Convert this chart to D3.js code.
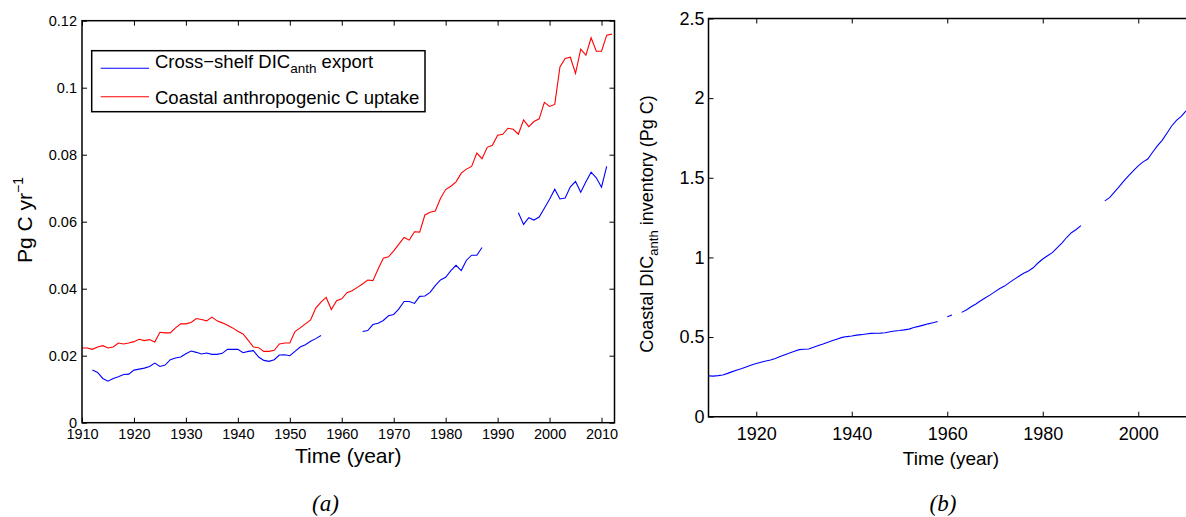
<!DOCTYPE html>
<html>
<head>
<meta charset="utf-8">
<script src="https://cdn.jsdelivr.net/npm/d3@7"></script>
<style>
  body { margin: 0; background: #fff; }
  svg { display: block; font-family: "Liberation Sans", Arial, sans-serif; }
  .ax path { display: none; }
  .ax line { stroke: #000; stroke-width: 1; }
</style>
</head>
<body>
<div id="chart-container"></div>
<script>
// panel (a): annual fluxes 1910-2012, null = no data
var firstYearA = 1910;
var exportFlux = [
  null, null, 0.0157, 0.0150, 0.0132, 0.0124, 0.0132, 0.0137, 0.0144, 0.0145,
  0.0157, 0.0160, 0.0163, 0.0168, 0.0178, 0.0168, 0.0172, 0.0188, 0.0193, 0.0196,
  0.0206, 0.0214, 0.0210, 0.0205, 0.0208, 0.0204, 0.0204, 0.0207, 0.0219, 0.0219,
  0.0219, 0.0209, 0.0213, 0.0215, 0.0196, 0.0186, 0.0183, 0.0188, 0.0202, 0.0203,
  0.0200, 0.0213, 0.0226, 0.0233, 0.0243, 0.0251, 0.0260, null, null, null,
  null, null, null, null, 0.0272, 0.0275, 0.0293, 0.0297, 0.0305, 0.0319,
  0.0323, 0.0340, 0.0362, 0.0362, 0.0356, 0.0377, 0.0378, 0.0389, 0.0409, 0.0426,
  0.0434, 0.0454, 0.0470, 0.0454, 0.0485, 0.0500, 0.0500, 0.0523, null, null,
  null, null, null, null, 0.0627, 0.0592, 0.0612, 0.0605, 0.0614, 0.0640,
  0.0667, 0.0697, 0.0668, 0.0671, 0.0704, 0.0720, 0.0688, 0.0719, 0.0748, 0.0731,
  0.0703, 0.0765, null
];
var uptakeFlux = [
  0.0223, 0.0223, 0.0219, 0.0226, 0.0230, 0.0223, 0.0226, 0.0238, 0.0235, 0.0238,
  0.0242, 0.0249, 0.0245, 0.0248, 0.0241, 0.0270, 0.0268, 0.0268, 0.0283, 0.0295,
  0.0295, 0.0299, 0.0311, 0.0308, 0.0304, 0.0315, 0.0304, 0.0298, 0.0291, 0.0283,
  0.0273, 0.0265, 0.0246, 0.0226, 0.0224, 0.0213, 0.0213, 0.0216, 0.0235, 0.0238,
  0.0238, 0.0272, 0.0283, 0.0295, 0.0307, 0.0342, 0.0360, 0.0374, 0.0338, 0.0364,
  0.0370, 0.0388, 0.0394, 0.0404, 0.0414, 0.0426, 0.0424, 0.0459, 0.0491, 0.0495,
  0.0513, 0.0533, 0.0553, 0.0545, 0.0570, 0.0569, 0.0620, 0.0628, 0.0632, 0.0669,
  0.0696, 0.0706, 0.0719, 0.0745, 0.0757, 0.0765, 0.0805, 0.0788, 0.0822, 0.0828,
  0.0858, 0.0861, 0.0879, 0.0876, 0.0861, 0.0904, 0.0884, 0.0899, 0.0907, 0.0956,
  0.0944, 0.0950, 0.1062, 0.1087, 0.1091, 0.1043, 0.1115, 0.1097, 0.1149, 0.1109,
  0.1109, 0.1157, 0.1160
];
var xTicksA = [1910, 1920, 1930, 1940, 1950, 1960, 1970, 1980, 1990, 2000, 2010];
var yTicksA = [0, 0.02, 0.04, 0.06, 0.08, 0.1, 0.12];

// panel (b): coastal DIC_anth inventory 1910-2010
var firstYearB = 1910;
var inventory = [
  0.256, 0.255, 0.258, 0.262, 0.272, 0.283, 0.293, 0.303, 0.314, 0.325,
  0.334, 0.342, 0.350, 0.356, 0.366, 0.378, 0.389, 0.400, 0.411, 0.421,
  0.423, 0.425, 0.436, 0.447, 0.457, 0.468, 0.478, 0.488, 0.498, 0.503,
  0.507, 0.512, 0.515, 0.519, 0.523, 0.524, 0.525, 0.527, 0.533, 0.538,
  0.541, 0.545, 0.550, 0.560, 0.567, 0.575, 0.583, 0.590, 0.598, null,
  0.628, 0.638, null, 0.655, 0.670, 0.690, 0.708, 0.728, 0.747, 0.765,
  0.785, 0.805, 0.820, 0.842, 0.862, 0.882, 0.900, 0.915, 0.935, 0.965,
  0.990, 1.010, 1.030, 1.060, 1.090, 1.125, 1.155, 1.175, 1.200, null,
  null, null, null, 1.355, 1.375, 1.410, 1.445, 1.480, 1.513, 1.545,
  1.575, 1.600, 1.618, 1.660, 1.700, 1.735, 1.780, 1.825, 1.860, 1.885,
  1.920
];
var xTicksB = [1920, 1940, 1960, 1980, 2000];
var yTicksB = [0, 0.5, 1, 1.5, 2, 2.5];

var W = 1186, H = 517;
var svg = d3.select("#chart-container").append("svg")
    .attr("width", W).attr("height", H);

function toPoints(values, y0) {
  return values.map(function(v, i) { return {year: y0 + i, v: v}; });
}
function fmt(d) { return String(d); }

// ---------- panel (a) ----------
var a = {left: 82, right: 614.5, top: 20.7, bottom: 422.7};
var xA = d3.scaleLinear().domain([1910, 2012.5]).range([a.left, a.right]);
var yA = d3.scaleLinear().domain([0, 0.12]).range([a.bottom, a.top]);

var lineA = d3.line()
    .defined(function(d) { return d.v != null; })
    .x(function(d) { return xA(d.year); })
    .y(function(d) { return yA(d.v); });

svg.append("g").attr("class", "ax")
    .attr("transform", "translate(0," + a.bottom + ")")
    .call(d3.axisBottom(xA).tickValues(xTicksA).tickFormat(fmt).tickSizeInner(-5).tickSizeOuter(0).tickPadding(6.5))
    .attr("font-family", null).attr("font-size", 14.5);
svg.append("g").attr("class", "ax")
    .attr("transform", "translate(0," + a.top + ")")
    .call(d3.axisTop(xA).tickValues(xTicksA).tickFormat("").tickSizeInner(-5).tickSizeOuter(0));
svg.append("g").attr("class", "ax")
    .attr("transform", "translate(" + a.left + ",0)")
    .call(d3.axisLeft(yA).tickValues(yTicksA).tickFormat(fmt).tickSizeInner(-5).tickSizeOuter(0).tickPadding(5))
    .attr("font-family", null).attr("font-size", 14.5);
svg.append("g").attr("class", "ax")
    .attr("transform", "translate(" + a.right + ",0)")
    .call(d3.axisRight(yA).tickValues(yTicksA).tickFormat("").tickSizeInner(-5).tickSizeOuter(0));

svg.append("path").datum(toPoints(uptakeFlux, firstYearA))
    .attr("fill", "none").attr("stroke", "#ff0000").attr("stroke-width", 1.1)
    .attr("d", lineA);
svg.append("path").datum(toPoints(exportFlux, firstYearA))
    .attr("fill", "none").attr("stroke", "#0000ff").attr("stroke-width", 1.1)
    .attr("d", lineA);

svg.append("rect")
    .attr("x", a.left).attr("y", a.top)
    .attr("width", a.right - a.left).attr("height", a.bottom - a.top)
    .attr("fill", "none").attr("stroke", "#000").attr("stroke-width", 1.5);

// legend
var leg = svg.append("g");
leg.append("rect").attr("x", 91.7).attr("y", 50.7).attr("width", 333.3).attr("height", 61)
    .attr("fill", "#fff").attr("stroke", "#000").attr("stroke-width", 1.5);
leg.append("line").attr("x1", 100.7).attr("x2", 149).attr("y1", 68.3).attr("y2", 68.3)
    .attr("stroke", "#0000ff").attr("stroke-width", 1.1);
leg.append("line").attr("x1", 100.7).attr("x2", 149).attr("y1", 96.7).attr("y2", 96.7)
    .attr("stroke", "#ff0000").attr("stroke-width", 1.1);
var t1 = leg.append("text").attr("x", 155).attr("y", 68).attr("font-size", 18.5);
t1.append("tspan").text("Cross\u2212shelf DIC");
t1.append("tspan").attr("font-size", 13.5).attr("dy", 5).text("anth");
t1.append("tspan").attr("dy", -5).text(" export");
leg.append("text").attr("x", 155).attr("y", 104).attr("font-size", 18.5)
    .text("Coastal anthropogenic C uptake");

svg.append("text").attr("x", (a.left + a.right) / 2).attr("y", 463)
    .attr("text-anchor", "middle").attr("font-size", 21).text("Time (year)");
var ylA = svg.append("text").attr("transform", "translate(32,220) rotate(-90)")
    .attr("text-anchor", "middle").attr("font-size", 21);
ylA.append("tspan").text("Pg C yr");
ylA.append("tspan").attr("font-size", 14).attr("dy", -9).text("\u22121");

svg.append("text").attr("x", 325.5).attr("y", 511)
    .attr("text-anchor", "middle").attr("font-size", 23)
    .attr("font-family", "'Liberation Serif', 'Times New Roman', serif")
    .attr("font-style", "italic").text("(a)");

// ---------- panel (b) ----------
var b = {left: 708.5, right: 1186, top: 18.5, bottom: 416.7};
var xB = d3.scaleLinear().domain([1910, 2010]).range([b.left, b.right]);
var yB = d3.scaleLinear().domain([0, 2.5]).range([b.bottom, b.top]);

var lineB = d3.line()
    .defined(function(d) { return d.v != null; })
    .x(function(d) { return xB(d.year); })
    .y(function(d) { return yB(d.v); });

svg.append("g").attr("class", "ax")
    .attr("transform", "translate(0," + b.bottom + ")")
    .call(d3.axisBottom(xB).tickValues(xTicksB).tickFormat(fmt).tickSizeInner(-5).tickSizeOuter(0).tickPadding(10.5))
    .attr("font-family", null).attr("font-size", 18);
svg.append("g").attr("class", "ax")
    .attr("transform", "translate(0," + b.top + ")")
    .call(d3.axisTop(xB).tickValues(xTicksB).tickFormat("").tickSizeInner(-5).tickSizeOuter(0));
svg.append("g").attr("class", "ax")
    .attr("transform", "translate(" + b.left + ",0)")
    .call(d3.axisLeft(yB).tickValues(yTicksB).tickFormat(fmt).tickSizeInner(-5).tickSizeOuter(0).tickPadding(4))
    .attr("font-family", null).attr("font-size", 18);

svg.append("path").datum(toPoints(inventory, firstYearB))
    .attr("fill", "none").attr("stroke", "#0000ff").attr("stroke-width", 1.1)
    .attr("d", lineB);

svg.append("path")
    .attr("d", "M" + b.right + "," + b.top + "H" + b.left + "V" + b.bottom + "H" + b.right)
    .attr("fill", "none").attr("stroke", "#000").attr("stroke-width", 1.5);

svg.append("text").attr("x", 951).attr("y", 465)
    .attr("text-anchor", "middle").attr("font-size", 19).text("Time (year)");
var ylB = svg.append("text").attr("transform", "translate(653,224) rotate(-90)")
    .attr("text-anchor", "middle").attr("font-size", 18);
ylB.append("tspan").text("Coastal DIC");
ylB.append("tspan").attr("font-size", 13).attr("dy", 5).text("anth");
ylB.append("tspan").attr("dy", -5).text(" inventory (Pg C)");

svg.append("text").attr("x", 943).attr("y", 511)
    .attr("text-anchor", "middle").attr("font-size", 23)
    .attr("font-family", "'Liberation Serif', 'Times New Roman', serif")
    .attr("font-style", "italic").text("(b)");
</script>
</body>
</html>
